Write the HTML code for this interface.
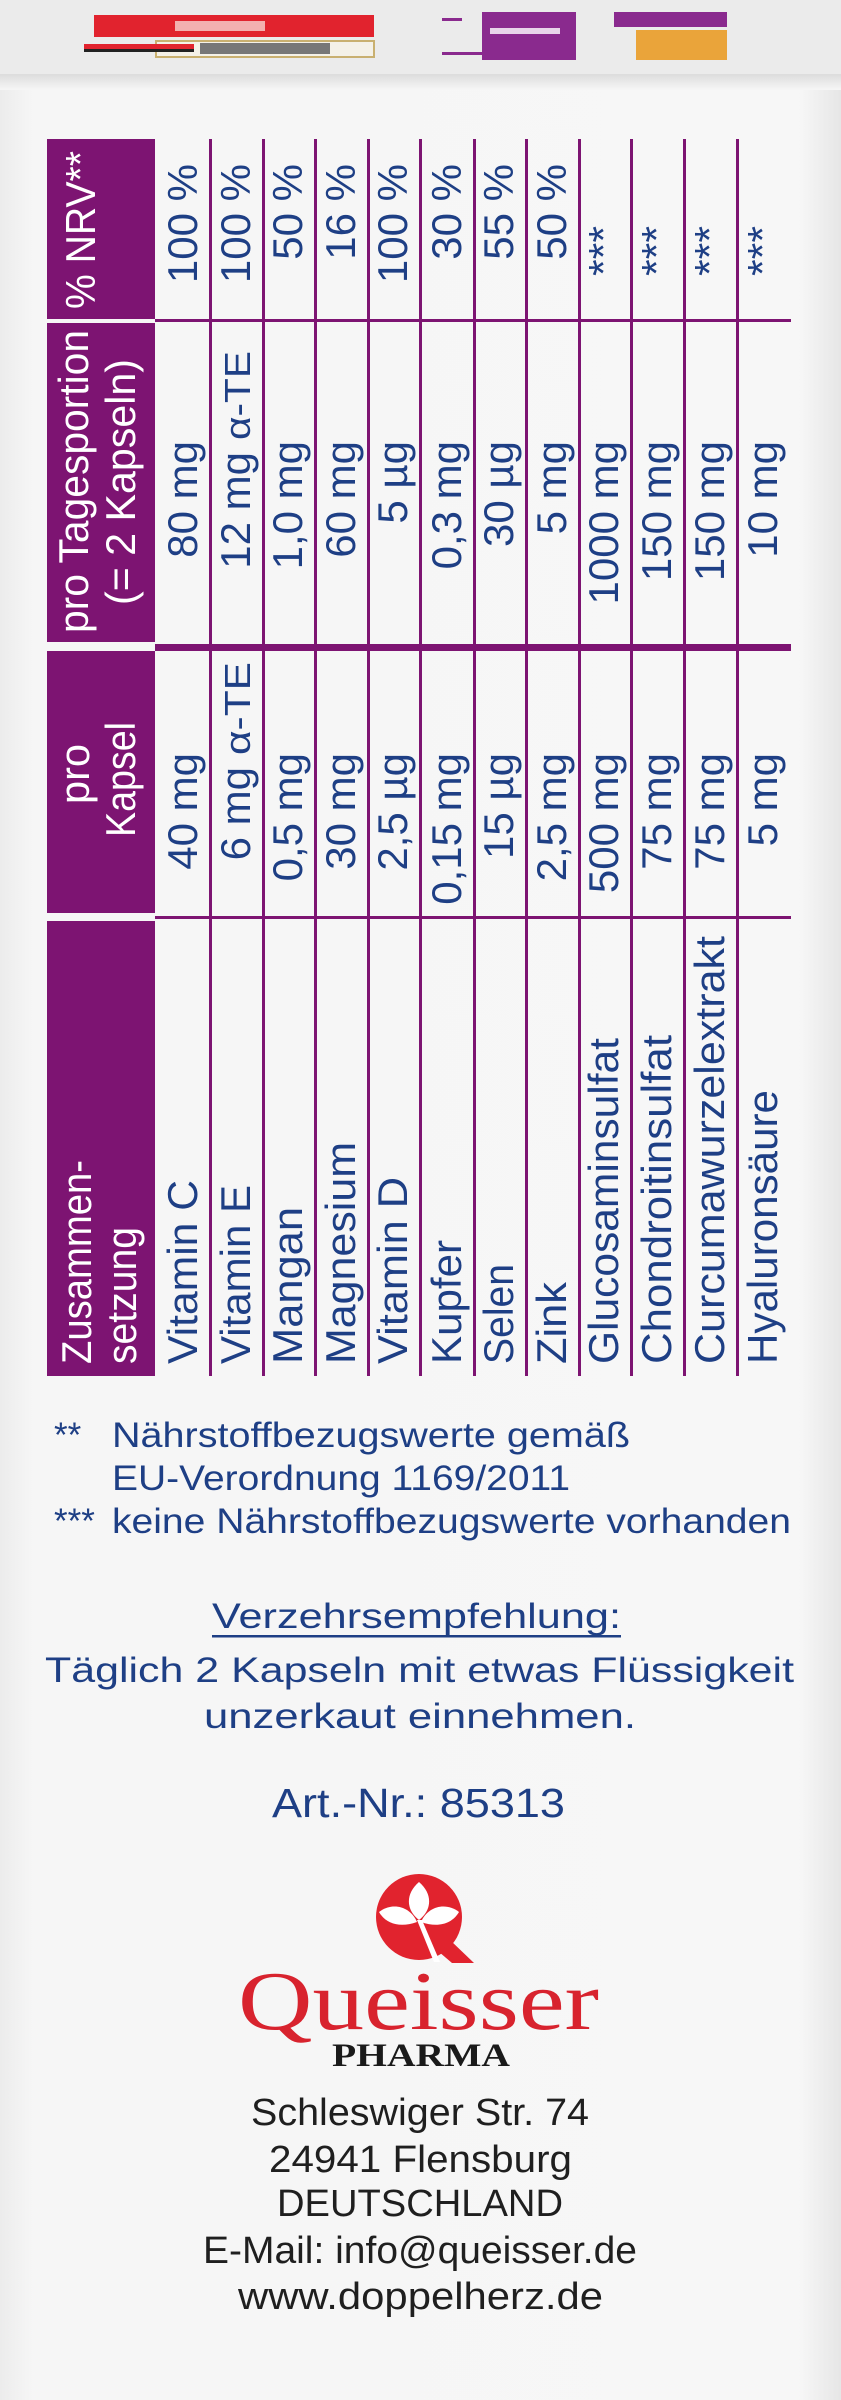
<!DOCTYPE html>
<html><head><meta charset="utf-8"><style>
html,body{margin:0;padding:0;}
body{width:841px;height:2400px;overflow:hidden;background:#f6f6f6;}
svg{display:block}
</style></head><body>
<svg width="841" height="2400" viewBox="0 0 841 2400" xmlns="http://www.w3.org/2000/svg" font-family="Liberation Sans, sans-serif">
<defs>
<linearGradient id="bg" x1="0" x2="1" y1="0" y2="0">
<stop offset="0" stop-color="#ececec"/><stop offset="0.04" stop-color="#f6f6f6"/><stop offset="0.95" stop-color="#f7f7f7"/><stop offset="1" stop-color="#e6e6e6"/>
</linearGradient>
<linearGradient id="sh" x1="0" x2="0" y1="0" y2="1">
<stop offset="0" stop-color="#dcdcdc"/><stop offset="1" stop-color="#f6f6f6"/>
</linearGradient>
</defs>
<rect x="0" y="0" width="841" height="2400" fill="url(#bg)"/>
<rect x="0" y="0" width="841" height="74" fill="#ebebeb"/>
<rect x="0" y="74" width="841" height="16" fill="url(#sh)"/>
<rect x="94" y="15" width="280" height="22" fill="#e1232e"/>
<rect x="175" y="21" width="90" height="10" fill="#f3b0b0"/>
<rect x="156" y="41" width="218" height="16" fill="#f4f1e8" stroke="#c9b070" stroke-width="2"/>
<rect x="84" y="44" width="110" height="5" fill="#e1232e"/>
<rect x="84" y="49" width="110" height="3" fill="#222"/>
<rect x="200" y="43" width="130" height="11" fill="#777"/>
<rect x="442" y="18" width="20" height="3" fill="#8a2a8e"/>
<rect x="482" y="12" width="94" height="48" fill="#8a2a8e"/>
<rect x="490" y="28" width="70" height="6" fill="#e8d4ea"/>
<rect x="442" y="52" width="40" height="3" fill="#8a2a8e"/>
<rect x="614" y="12" width="113" height="15" fill="#8a2a8e"/>
<rect x="636" y="30" width="91" height="30" fill="#eaa43a"/>
<g fill="#7d1472">
<rect x="47" y="139" width="108" height="180"/>
<rect x="47" y="323" width="108" height="319"/>
<rect x="47" y="651" width="108" height="262"/>
<rect x="47" y="921" width="108" height="455"/>
</g>
<g fill="#7d1472">
<rect x="155" y="319" width="636" height="3"/>
<rect x="155" y="644" width="636" height="7"/>
<rect x="155" y="916" width="636" height="3"/>
<rect x="209" y="139" width="3" height="1237"/>
<rect x="262" y="139" width="3" height="1237"/>
<rect x="314" y="139" width="3" height="1237"/>
<rect x="367" y="139" width="3" height="1237"/>
<rect x="419" y="139" width="3" height="1237"/>
<rect x="473" y="139" width="3" height="1237"/>
<rect x="525" y="139" width="3" height="1237"/>
<rect x="578" y="139" width="3" height="1237"/>
<rect x="630" y="139" width="3" height="1237"/>
<rect x="683" y="139" width="3" height="1237"/>
<rect x="736" y="139" width="3" height="1237"/>
</g>
<g fill="#ffffff" font-size="42">
<text transform="translate(95,309) rotate(-90)" textLength="158" lengthAdjust="spacingAndGlyphs">% NRV**</text>
<text transform="translate(88,633) rotate(-90)" textLength="303" lengthAdjust="spacingAndGlyphs">pro Tagesportion</text>
<text transform="translate(135,605) rotate(-90)" textLength="246" lengthAdjust="spacingAndGlyphs">(= 2 Kapseln)</text>
<text transform="translate(89,804) rotate(-90)" textLength="60" lengthAdjust="spacingAndGlyphs">pro</text>
<text transform="translate(135,837) rotate(-90)" textLength="115" lengthAdjust="spacingAndGlyphs">Kapsel</text>
<text transform="translate(91,1364) rotate(-90)" textLength="204" lengthAdjust="spacingAndGlyphs">Zusammen-</text>
<text transform="translate(136,1364) rotate(-90)" textLength="137" lengthAdjust="spacingAndGlyphs">setzung</text>
</g>
<g fill="#1e3f85" font-size="42">
<text transform="translate(197,1364) rotate(-90)" textLength="184" lengthAdjust="spacingAndGlyphs">Vitamin C</text>
<text transform="translate(250,1364) rotate(-90)" textLength="179" lengthAdjust="spacingAndGlyphs">Vitamin E</text>
<text transform="translate(302,1364) rotate(-90)" textLength="157" lengthAdjust="spacingAndGlyphs">Mangan</text>
<text transform="translate(355,1364) rotate(-90)" textLength="222" lengthAdjust="spacingAndGlyphs">Magnesium</text>
<text transform="translate(407,1364) rotate(-90)" textLength="187" lengthAdjust="spacingAndGlyphs">Vitamin D</text>
<text transform="translate(461,1364) rotate(-90)" textLength="124" lengthAdjust="spacingAndGlyphs">Kupfer</text>
<text transform="translate(513,1364) rotate(-90)" textLength="100" lengthAdjust="spacingAndGlyphs">Selen</text>
<text transform="translate(566,1364) rotate(-90)" textLength="82" lengthAdjust="spacingAndGlyphs">Zink</text>
<text transform="translate(618,1364) rotate(-90)" textLength="326" lengthAdjust="spacingAndGlyphs">Glucosaminsulfat</text>
<text transform="translate(671,1364) rotate(-90)" textLength="329" lengthAdjust="spacingAndGlyphs">Chondroitinsulfat</text>
<text transform="translate(724,1364) rotate(-90)" textLength="428" lengthAdjust="spacingAndGlyphs">Curcumawurzelextrakt</text>
<text transform="translate(777,1364) rotate(-90)" textLength="274" lengthAdjust="spacingAndGlyphs">Hyaluronsäure</text>
</g>
<g fill="#1e3f85" font-size="42" text-anchor="end">
<text transform="translate(197,753) rotate(-90)">40 mg</text>
<text transform="translate(250,767) rotate(-90)">6 mg</text>
<text transform="translate(302,753) rotate(-90)">0,5 mg</text>
<text transform="translate(355,753) rotate(-90)">30 mg</text>
<text transform="translate(407,753) rotate(-90)">2,5  µg</text>
<text transform="translate(461,753) rotate(-90)">0,15 mg</text>
<text transform="translate(513,753) rotate(-90)">15  µg</text>
<text transform="translate(566,753) rotate(-90)">2,5 mg</text>
<text transform="translate(618,753) rotate(-90)">500 mg</text>
<text transform="translate(671,753) rotate(-90)">75 mg</text>
<text transform="translate(724,753) rotate(-90)">75 mg</text>
<text transform="translate(777,753) rotate(-90)">5 mg</text>
</g>
<text transform="translate(250,755) rotate(-90)" fill="#1e3f85" font-size="36" textLength="93" lengthAdjust="spacingAndGlyphs">α-TE</text>
<g fill="#1e3f85" font-size="42" text-anchor="end">
<text transform="translate(197,441) rotate(-90)">80 mg</text>
<text transform="translate(250,452) rotate(-90)">12 mg</text>
<text transform="translate(302,441) rotate(-90)">1,0 mg</text>
<text transform="translate(355,441) rotate(-90)">60 mg</text>
<text transform="translate(407,441) rotate(-90)">5  µg</text>
<text transform="translate(461,441) rotate(-90)">0,3 mg</text>
<text transform="translate(513,441) rotate(-90)">30  µg</text>
<text transform="translate(566,441) rotate(-90)">5 mg</text>
<text transform="translate(618,441) rotate(-90)">1000 mg</text>
<text transform="translate(671,441) rotate(-90)">150 mg</text>
<text transform="translate(724,441) rotate(-90)">150 mg</text>
<text transform="translate(777,441) rotate(-90)">10 mg</text>
</g>
<text transform="translate(250,440) rotate(-90)" fill="#1e3f85" font-size="36" textLength="89" lengthAdjust="spacingAndGlyphs">α-TE</text>
<g fill="#1e3f85" font-size="42" text-anchor="end">
<text transform="translate(197,164) rotate(-90)">100 %</text>
<text transform="translate(250,164) rotate(-90)">100 %</text>
<text transform="translate(302,164) rotate(-90)">50 %</text>
<text transform="translate(355,164) rotate(-90)">16 %</text>
<text transform="translate(407,164) rotate(-90)">100 %</text>
<text transform="translate(461,164) rotate(-90)">30 %</text>
<text transform="translate(513,164) rotate(-90)">55 %</text>
<text transform="translate(566,164) rotate(-90)">50 %</text>
</g>
<g fill="#1e3f85" font-size="42">
<text transform="translate(618,276) rotate(-90)" textLength="50" lengthAdjust="spacingAndGlyphs">***</text>
<text transform="translate(671,276) rotate(-90)" textLength="50" lengthAdjust="spacingAndGlyphs">***</text>
<text transform="translate(724,276) rotate(-90)" textLength="50" lengthAdjust="spacingAndGlyphs">***</text>
<text transform="translate(777,276) rotate(-90)" textLength="50" lengthAdjust="spacingAndGlyphs">***</text>
</g>
<g fill="#1e3f85" font-size="35">
<text x="54" y="1447">**</text>
<text x="112" y="1447" textLength="518" lengthAdjust="spacingAndGlyphs">Nährstoffbezugswerte gemäß</text>
<text x="112" y="1490" textLength="458" lengthAdjust="spacingAndGlyphs">EU-Verordnung 1169/2011</text>
<text x="54" y="1533">***</text>
<text x="112" y="1533" textLength="679" lengthAdjust="spacingAndGlyphs">keine Nährstoffbezugswerte vorhanden</text>
<text x="212" y="1628" textLength="409" lengthAdjust="spacingAndGlyphs">Verzehrsempfehlung:</text>
<rect x="212" y="1635" width="409" height="2.5"/>
<text x="45" y="1682" textLength="749" lengthAdjust="spacingAndGlyphs">Täglich 2 Kapseln mit etwas Flüssigkeit</text>
<text x="204" y="1728" textLength="432" lengthAdjust="spacingAndGlyphs">unzerkaut einnehmen.</text>
<text x="272" y="1817" font-size="41" textLength="293" lengthAdjust="spacingAndGlyphs">Art.-Nr.: 85313</text>
</g>
<g>
<circle cx="419" cy="1917" r="43" fill="#e1232e"/>
<polygon points="425,1940 450,1940 474,1963 452,1963" fill="#e1232e"/>
<path d="M419,1882 C405,1894 406,1910 419,1920 C432,1910 433,1894 419,1882 Z" fill="#fff"/>
<path d="M379,1912 C392,1902 410,1906 417,1922 C400,1928 386,1924 379,1912 Z" fill="#fff"/>
<path d="M459,1912 C446,1902 428,1906 421,1922 C438,1928 452,1924 459,1912 Z" fill="#fff"/>
<polygon points="417,1920 422,1920 440,1962 434,1962" fill="#fff"/>
</g>
<text x="238" y="2029" font-family="Liberation Serif, serif" font-size="84" fill="#d8232e" textLength="361" lengthAdjust="spacingAndGlyphs">Queisser</text>
<text x="332" y="2066" font-family="Liberation Serif, serif" font-weight="bold" font-size="33" fill="#1a1a1a" textLength="178" lengthAdjust="spacingAndGlyphs">PHARMA</text>
<g fill="#1f1f1f" font-size="38">
<text x="251" y="2125" textLength="338" lengthAdjust="spacingAndGlyphs">Schleswiger Str. 74</text>
<text x="269" y="2172" textLength="303" lengthAdjust="spacingAndGlyphs">24941 Flensburg</text>
<text x="277" y="2216" textLength="286" lengthAdjust="spacingAndGlyphs">DEUTSCHLAND</text>
<text x="203" y="2263" textLength="434" lengthAdjust="spacingAndGlyphs">E-Mail: info@queisser.de</text>
<text x="238" y="2309" textLength="365" lengthAdjust="spacingAndGlyphs">www.doppelherz.de</text>
</g>
</svg>
</body></html>
